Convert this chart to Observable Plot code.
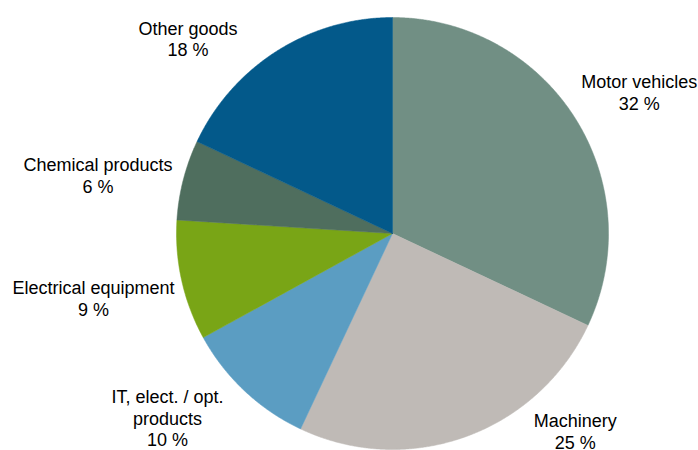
<!DOCTYPE html>
<html>
<head>
<meta charset="utf-8">
<script src="https://cdn.jsdelivr.net/npm/d3@7"></script>
<script src="https://cdn.jsdelivr.net/npm/@observablehq/plot@0.6"></script>
<style>
  html, body { margin: 0; padding: 0; background: #fff; }
  #chart svg { display: block; }
</style>
</head>
<body>
<div id="chart"></div>
<script>
// ---- data ----
const categories = ["Motor vehicles", "Machinery", "IT, elect. / opt.\nproducts", "Electrical equipment", "Chemical products", "Other goods"];
const shares = [32, 25, 10, 9, 6, 18];
const colors = ["#718f84", "#bfbab6", "#5b9dc2", "#79a516", "#4f6e5e", "#03598a"];

// ---- layout (label anchors in radius units, relative to pie centre; y up) ----
const labelPos = [
  [1.142, 0.745], [0.846, -0.826], [-1.042, -0.715],
  [-1.384, -0.209], [-1.363, 0.359], [-0.947, 0.991]
];
const W = 698, H = 450, R = 216, CX = 392, CY = 233;

const pie = d3.pie().sort(null).value(d => d.value)(categories.map((c, i) => ({name: c, value: shares[i]})));

const slicePts = [];
pie.forEach(p => {
  const name = p.data.name;
  slicePts.push({name, x: 0, y: 0});
  const n = Math.max(2, Math.ceil((p.endAngle - p.startAngle) / 0.005));
  for (let k = 0; k <= n; k++) {
    const a = p.startAngle + (p.endAngle - p.startAngle) * k / n;
    slicePts.push({name, x: Math.sin(a), y: Math.cos(a)});
  }
  slicePts.push({name, x: 0, y: 0});
});

const labels = categories.map((c, i) => ({
  text: c + "\n" + shares[i] + " %",
  x: labelPos[i][0], y: labelPos[i][1]
}));

const chart = Plot.plot({
  width: W, height: H,
  margin: 0,
  style: {background: "#fff"},
  x: {domain: [-CX / R, (W - CX) / R], axis: null},
  y: {domain: [-(H - CY) / R, CY / R], axis: null},
  color: {domain: categories, range: colors},
  marks: [
    Plot.line(slicePts, {x: "x", y: "y", z: "name", fill: "name", stroke: "name", strokeWidth: 0.5, curve: "linear"}),
    Plot.text(labels, {x: "x", y: "y", text: "text", lineAnchor: "top", textAnchor: "middle",
      fontSize: 18, lineHeight: 1.2, fill: "#000", fontFamily: "Liberation Sans, Arial, sans-serif"})
  ]
});
document.getElementById("chart").appendChild(chart);
</script>
</body>
</html>
